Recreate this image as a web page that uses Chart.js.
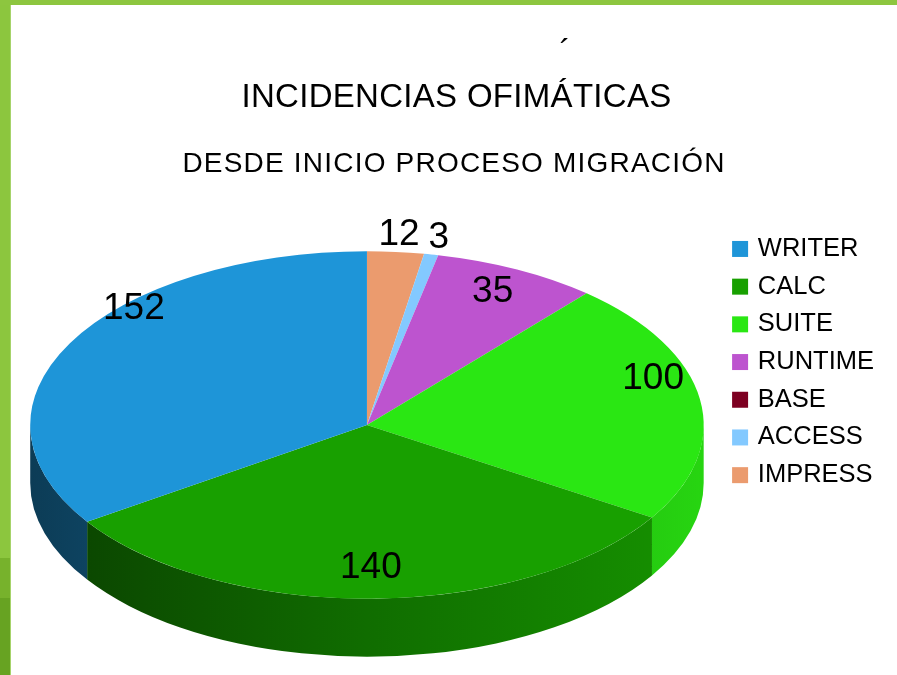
<!DOCTYPE html>
<html>
<head>
<meta charset="utf-8">
<script src="https://cdn.jsdelivr.net/npm/chart.js@4"></script>
<style>
  html, body { margin: 0; padding: 0; background: #fff; }
  #frame { position: relative; width: 897px; height: 675px; overflow: hidden; background: #8dc63f; }
  #stripe {
    position: absolute; left: 0; top: 5px; width: 10px; height: 670px;
    border-right: 1px solid #a6d36a;
    background: linear-gradient(to bottom, #8cc63e 0, #8cc63e 553px, #77b22c 553px, #77b22c 593px, #67a322 593px);
  }
  #wrap { position: absolute; left: 11px; top: 5px; width: 886px; height: 670px; background: #fff; }
</style>
</head>
<body>
<div id="frame">
  <div id="stripe"></div>
  <div id="wrap"><canvas id="pieChart" width="886" height="670"></canvas></div>
</div>
<script>
  const titleText = "INCIDENCIAS OFIMÁTICAS";
  const subtitleText = "DESDE INICIO PROCESO MIGRACIÓN";

  // legend order
  const categories = ["WRITER", "CALC", "SUITE", "RUNTIME", "BASE", "ACCESS", "IMPRESS"];
  const incidencias = [152, 140, 100, 35, 0, 3, 12];
  const colores = ["#1e95d8", "#18a000", "#2ae713", "#bd54cf", "#7d0021", "#83c9ff", "#eb9b6e"];

  const fontFamily = "'Liberation Sans', Arial, sans-serif";

  // the reference goes counter-clockwise from the top, chart.js goes clockwise
  const order = categories.map((c, i) => i).reverse();

  const shade = (hex, f) => {
    const n = parseInt(hex.slice(1), 16);
    const r = Math.round(((n >> 16) & 255) * f);
    const g = Math.round(((n >> 8) & 255) * f);
    const b = Math.round((n & 255) * f);
    return "rgb(" + r + "," + g + "," + b + ")";
  };

  // squash the pie into an ellipse and give it a side wall
  const pieView = (chart) => {
    const arcs = chart.getDatasetMeta(0).data;
    const a0 = arcs[0];
    const area = chart.chartArea;
    const rx = (area.right - area.left) / 2 * 0.946;
    const ry = rx * 0.516;
    return { arcs, cx: a0.x, cy: a0.y, R: a0.outerRadius, rx, ry, depth: ry / 3 };
  };

  const pie3d = {
    id: "pie3d",
    beforeDatasetsDraw(chart) {
      const ctx = chart.ctx;
      const v = pieView(chart);
      ctx.save();
      v.arcs.forEach((arc) => {
        const a = Math.max(arc.startAngle, 0);
        const b = Math.min(arc.endAngle, Math.PI);
        if (b <= a) return;
        const base = arc.options.backgroundColor;
        const grad = ctx.createLinearGradient(v.cx - v.rx, 0, v.cx + v.rx, 0);
        grad.addColorStop(0, shade(base, 0.4));
        grad.addColorStop(0.5, shade(base, 0.68));
        grad.addColorStop(1, shade(base, 0.92));
        ctx.beginPath();
        ctx.ellipse(v.cx, v.cy, v.rx, v.ry, 0, a, b);
        ctx.ellipse(v.cx, v.cy + v.depth, v.rx, v.ry, 0, b, a, true);
        ctx.closePath();
        ctx.fillStyle = grad;
        ctx.fill();
      });
      ctx.restore();
      // top face
      ctx.save();
      ctx.translate(v.cx, v.cy);
      ctx.scale(v.rx / v.R, v.ry / v.R);
      ctx.translate(-v.cx, -v.cy);
    },
    afterDatasetsDraw(chart) {
      const ctx = chart.ctx;
      ctx.restore();
      const v = pieView(chart);
      const values = chart.data.datasets[0].data;
      const total = values.reduce((s, x) => s + x, 0);
      ctx.save();
      ctx.font = "37px " + fontFamily;
      ctx.fillStyle = "#000";
      ctx.textAlign = "center";
      ctx.textBaseline = "middle";
      v.arcs.forEach((arc, i) => {
        const val = values[i];
        if (!val) return;
        const m = (arc.startAngle + arc.endAngle) / 2;
        const c = Math.cos(m), s = Math.sin(m);
        const small = val / total < 0.05;
        const fx = small ? 1.12 : 0.82 + 0.04 * c;
        const fy = small ? 1.1 : 0.82;
        const x = v.cx + v.rx * fx * c;
        let y = v.cy + v.ry * fy * s;
        if (!small && s < 0) y -= v.ry * Math.abs(s) * Math.pow(c, 4);
        ctx.fillText(String(val), x, y);
      });
      ctx.restore();
    },
    afterDraw(chart) {
      // stray accent above the title in the original
      const ctx = chart.ctx;
      ctx.save();
      ctx.font = "33px " + fontFamily;
      ctx.fillStyle = "#000";
      ctx.textAlign = "center";
      ctx.fillText("´", 554, 58);
      ctx.restore();
    }
  };

  // letter spacing / centring tweaks for the titles
  const titleTweaks = {
    id: "titleTweaks",
    afterLayout(chart) {
      chart.boxes.forEach((box) => {
        if (!box.options || box._tweaked) return;
        let spacing = null, dx = 0;
        if (box.options.text === titleText) { spacing = "0.3px"; dx = 9; }
        else if (box.options.text === subtitleText) { spacing = "1.2px"; dx = 6.5; }
        else return;
        const draw = box.draw;
        box.draw = function () {
          const ctx = chart.ctx;
          ctx.save();
          ctx.translate(dx, 0);
          ctx.letterSpacing = spacing;
          draw.apply(this, arguments);
          ctx.restore();
        };
        box._tweaked = true;
      });
    }
  };

  new Chart(document.getElementById("pieChart").getContext("2d"), {
    type: "pie",
    data: {
      labels: order.map((i) => categories[i]),
      datasets: [
        {
          data: order.map((i) => incidencias[i]),
          backgroundColor: order.map((i) => colores[i]),
          borderWidth: 0,
          clip: false,
        },
      ],
    },
    options: {
      responsive: false,
      animation: false,
      events: [],
      layout: { padding: { top: 0, left: 0, right: 13, bottom: 49 } },
      plugins: {
        title: {
          display: true,
          text: titleText,
          color: "#000",
          font: { family: fontFamily, size: 33, weight: "normal" },
          padding: { top: 72.8, bottom: 10 },
        },
        subtitle: {
          display: true,
          text: subtitleText,
          color: "#000",
          font: { family: fontFamily, size: 28, weight: "normal" },
          padding: { top: 20.1, bottom: 42.9 },
        },
        legend: {
          position: "right",
          align: "start",
          fullSize: false,
          reverse: true,
          labels: {
            usePointStyle: true,
            pointStyle: "rect",
            boxWidth: 10,
            boxHeight: 16,
            padding: 12.2,
            color: "#000",
            font: { family: fontFamily, size: 25.5 },
          },
        },
        tooltip: { enabled: false },
      },
    },
    plugins: [pie3d, titleTweaks],
  });
</script>
</body>
</html>
